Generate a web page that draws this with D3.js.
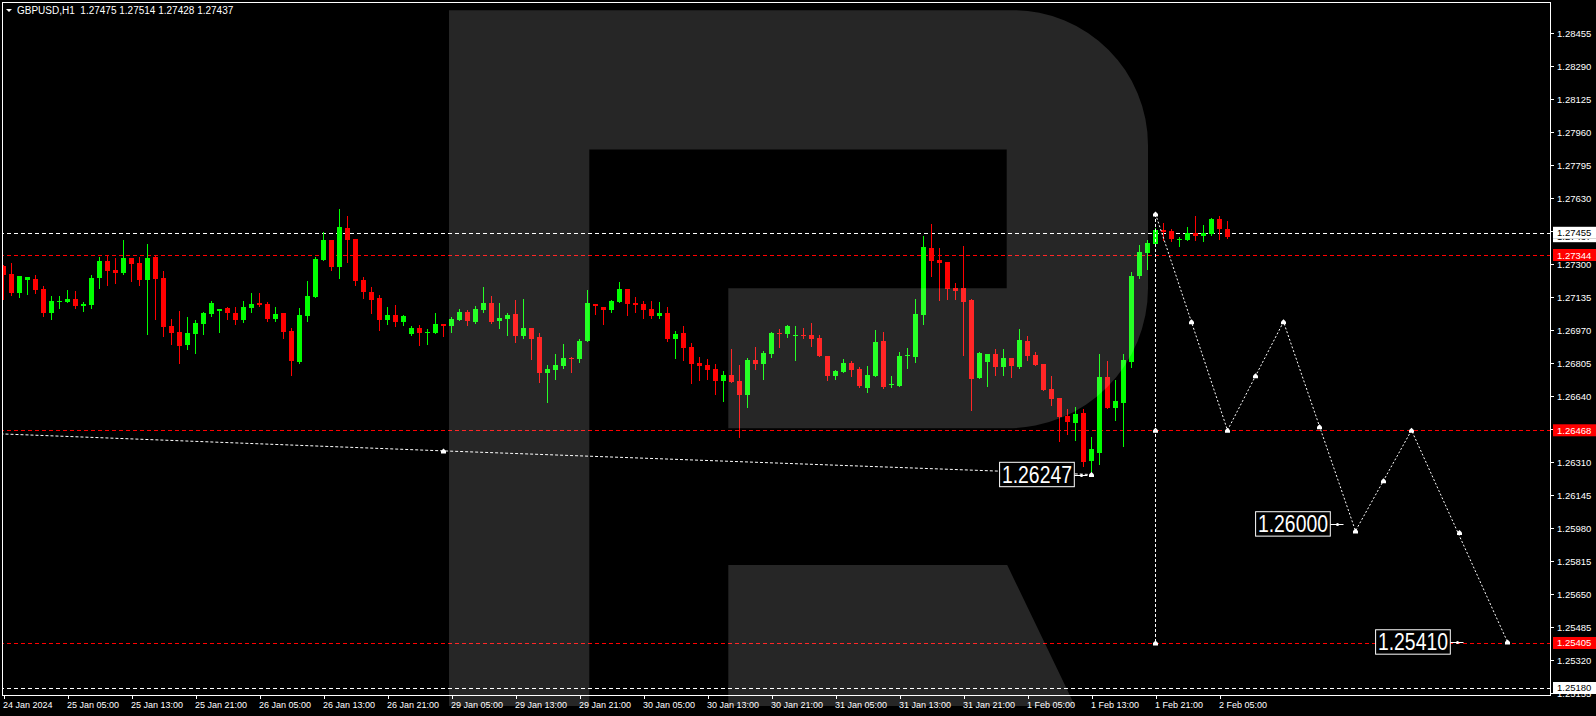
<!DOCTYPE html>
<html><head><meta charset="utf-8">
<script src="https://cdn.jsdelivr.net/npm/d3@7"></script>
<style>html,body{margin:0;padding:0;background:#000;overflow:hidden}svg{display:block}</style>
</head><body><svg id="c" width="1596" height="716"></svg>
<script>
// ---- data (GBPUSD H1) ----
const opens=[1.27290,1.27249,1.27156,1.27219,1.27224,1.27174,1.27054,1.27110,1.27109,1.27124,
1.27089,1.27094,1.27229,1.27314,1.27269,1.27254,1.27329,1.27304,1.27219,1.27334,
1.27229,1.26989,1.26959,1.26894,1.26949,1.26999,1.27049,1.27066,1.27079,1.27054,
1.27019,1.27079,1.27104,1.27099,1.27024,1.27054,1.26964,1.26809,1.27039,1.27134,
1.27319,1.27419,1.27284,1.27479,1.27424,1.27219,1.27159,1.27129,1.27019,1.27044,
1.27009,1.26949,1.26979,1.26956,1.26954,1.26999,1.26989,1.27019,1.27059,1.27009,
1.27069,1.27104,1.27014,1.27024,1.27049,1.26939,1.26979,1.26934,1.26754,1.26769,
1.26789,1.26829,1.26824,1.26914,1.27099,1.27084,1.27069,1.27109,1.27174,1.27104,
1.27099,1.27074,1.27039,1.27054,1.26924,1.26954,1.26884,1.26804,1.26794,1.26774,
1.26714,1.26744,1.26714,1.26644,1.26819,1.26799,1.26849,1.26954,1.26949,1.26942,
1.26944,1.26944,1.26929,1.26839,1.26739,1.26759,1.26804,1.26774,1.26679,1.26739,
1.26914,1.26694,1.26689,1.26839,1.26834,1.27044,1.27379,1.27319,1.27309,1.27179,
1.27179,1.27119,1.26729,1.26809,1.26849,1.26784,1.26829,1.26784,1.26914,1.26844,
1.26799,1.26674,1.26629,1.26539,1.26504,1.26554,1.26314,1.26354,1.26734,1.26579,
1.26604,1.26809,1.27239,1.27354,1.27399,1.27469,1.27464,1.27417,1.27419,1.27454,
1.27439,1.27449,1.27524,1.27475];
const highs=[1.27295,1.27304,1.27239,1.27234,1.27244,1.27189,1.27139,1.27139,1.27169,1.27164,
1.27109,1.27244,1.27334,1.27344,1.27329,1.27419,1.27329,1.27334,1.27399,1.27339,
1.27264,1.27024,1.27064,1.27034,1.27019,1.27059,1.27114,1.27074,1.27084,1.27084,
1.27114,1.27154,1.27154,1.27109,1.27084,1.27054,1.26979,1.27079,1.27214,1.27334,
1.27459,1.27419,1.27574,1.27539,1.27424,1.27234,1.27184,1.27144,1.27084,1.27094,
1.27044,1.26989,1.26994,1.26974,1.27054,1.26999,1.27034,1.27074,1.27069,1.27089,
1.27184,1.27139,1.27104,1.27054,1.27119,1.27124,1.26979,1.26954,1.26794,1.26849,
1.26899,1.26834,1.26924,1.27169,1.27099,1.27084,1.27119,1.27209,1.27174,1.27134,
1.27114,1.27114,1.27109,1.27084,1.26964,1.26989,1.26904,1.26834,1.26824,1.26799,
1.26764,1.26874,1.26794,1.26829,1.26884,1.26864,1.26959,1.26974,1.26994,1.26989,
1.26979,1.27004,1.26944,1.26839,1.26769,1.26824,1.26814,1.26784,1.26789,1.26969,
1.26959,1.26739,1.26859,1.26879,1.27124,1.27439,1.27499,1.27379,1.27309,1.27204,
1.27389,1.27124,1.26859,1.26849,1.26874,1.26874,1.26829,1.26974,1.26939,1.26859,
1.26799,1.26739,1.26629,1.26574,1.26584,1.26574,1.26434,1.26849,1.26814,1.26719,
1.26849,1.27259,1.27394,1.27419,1.27479,1.27504,1.27474,1.27436,1.27484,1.27539,
1.27494,1.27529,1.27539,1.27514];
const lows=[1.27124,1.27146,1.27136,1.27151,1.27156,1.27041,1.27024,1.27080,1.27109,1.27079,
1.27064,1.27079,1.27179,1.27194,1.27204,1.27249,1.27214,1.27194,1.26949,1.27024,
1.26939,1.26899,1.26804,1.26874,1.26854,1.26949,1.27039,1.26959,1.27024,1.26999,
1.27009,1.27059,1.27089,1.27014,1.27014,1.26929,1.26744,1.26804,1.27014,1.27134,
1.27319,1.27269,1.27229,1.27309,1.27194,1.27129,1.27054,1.26969,1.26999,1.26989,
1.26994,1.26944,1.26894,1.26899,1.26954,1.26939,1.26959,1.27019,1.26994,1.27004,
1.27059,1.27004,1.26979,1.26944,1.26909,1.26929,1.26824,1.26709,1.26609,1.26724,
1.26779,1.26759,1.26809,1.26914,1.27049,1.26999,1.27059,1.27109,1.27044,1.27059,
1.27029,1.27029,1.27029,1.26914,1.26829,1.26819,1.26704,1.26719,1.26724,1.26649,
1.26614,1.26709,1.26434,1.26584,1.26774,1.26724,1.26834,1.26884,1.26934,1.26819,
1.26929,1.26889,1.26839,1.26719,1.26724,1.26759,1.26739,1.26684,1.26659,1.26739,
1.26679,1.26684,1.26689,1.26779,1.26809,1.26999,1.27239,1.27119,1.27124,1.27124,
1.26844,1.26569,1.26729,1.26689,1.26744,1.26744,1.26734,1.26779,1.26819,1.26794,
1.26669,1.26594,1.26414,1.26449,1.26419,1.26289,1.26244,1.26299,1.26579,1.26519,
1.26389,1.26784,1.27229,1.27274,1.27399,1.27419,1.27414,1.27389,1.27419,1.27419,
1.27414,1.27444,1.27424,1.27428];
const closes=[1.27244,1.27156,1.27239,1.27234,1.27171,1.27054,1.27114,1.27115,1.27124,1.27089,
1.27099,1.27229,1.27314,1.27264,1.27254,1.27329,1.27299,1.27219,1.27329,1.27224,
1.26984,1.26954,1.26889,1.26954,1.27004,1.27054,1.27104,1.27074,1.27054,1.27019,
1.27084,1.27099,1.27094,1.27024,1.27049,1.26959,1.26814,1.27044,1.27139,1.27324,
1.27419,1.27284,1.27484,1.27419,1.27214,1.27159,1.27119,1.27019,1.27044,1.27009,
1.27039,1.26979,1.26954,1.26959,1.26999,1.26989,1.27024,1.27059,1.27014,1.27074,
1.27104,1.27009,1.27029,1.27044,1.26939,1.26979,1.26924,1.26754,1.26774,1.26794,
1.26829,1.26824,1.26914,1.27104,1.27089,1.27069,1.27114,1.27174,1.27099,1.27094,
1.27069,1.27039,1.27054,1.26924,1.26949,1.26879,1.26799,1.26789,1.26769,1.26714,
1.26744,1.26709,1.26644,1.26819,1.26799,1.26854,1.26954,1.26951,1.26989,1.26944,
1.26939,1.26924,1.26839,1.26739,1.26764,1.26804,1.26769,1.26689,1.26744,1.26909,
1.26684,1.26699,1.26839,1.26842,1.27049,1.27384,1.27314,1.27304,1.27174,1.27164,
1.27109,1.26724,1.26854,1.26849,1.26784,1.26829,1.26789,1.26919,1.26839,1.26794,
1.26669,1.26624,1.26534,1.26509,1.26549,1.26309,1.26374,1.26734,1.26579,1.26614,
1.26819,1.27239,1.27359,1.27404,1.27469,1.27459,1.27424,1.27424,1.27454,1.27441,
1.27454,1.27524,1.27474,1.27437];

const xTickBars=[0,8,16,24,32,40,48,56,64,72,80,88,96,104,112,120,128,136,144,152];
const xTickLabels=["24 Jan 2024","25 Jan 05:00","25 Jan 13:00","25 Jan 21:00","26 Jan 05:00",
"26 Jan 13:00","26 Jan 21:00","29 Jan 05:00","29 Jan 13:00","29 Jan 21:00","30 Jan 05:00",
"30 Jan 13:00","30 Jan 21:00","31 Jan 05:00","31 Jan 13:00","31 Jan 21:00","1 Feb 05:00",
"1 Feb 13:00","1 Feb 21:00","2 Feb 05:00"];
const yTickLabels=["1.28455","1.28290","1.28125","1.27960","1.27795","1.27630","1.27465",
"1.27300","1.27135","1.26970","1.26805","1.26640","1.26475","1.26310","1.26145","1.25980",
"1.25815","1.25650","1.25485","1.25320","1.25155"];
const headerText="GBPUSD,H1  1.27475 1.27514 1.27428 1.27437";
const redLevels=[1.27344,1.26468,1.25405];
const whiteLevels=[1.27455,1.25180];
const bidPrice=1.27437;
const leftPathBars=[-1,55,136];
const leftPathPrices=[1.26451,1.26365,1.26247];
const fcBars=[144,153,160,169,176,188];
const fcPrices=[1.27549,1.26468,1.27010,1.25965,1.26468,1.25410];
const vLineBar=144;
const vLinePrices=[1.27549,1.25405];
const markerBars=[55,136,144,148.5,153,156.5,160,164.5,169,172.5,176,182,188,144,144];
const markerPrices=[1.26365,1.26247,1.27549,1.27010,1.26468,1.26741,1.27010,1.26486,1.25965,1.26216,1.26468,1.25957,1.25410,1.26468,1.25405];
const labelBars=[136,168,183];
const labelPrices=[1.26247,1.26000,1.25410];
const labelTexts=["1.26247","1.26000","1.25410"];

// ---- scales ----
const svg=d3.select("#c");
const W=1596,H=716, plotR=1550, plotB=695;
const x=d3.scaleLinear().domain([0,1]).range([3.5,11.5]);
const y=d3.scaleLinear().domain([1.28455,1.25155]).range([32.7,693]);
const FONT="'Liberation Sans', Arial, sans-serif";

svg.append("rect").attr("width",W).attr("height",H).attr("fill","#000");
const defs=svg.append("defs");
defs.append("clipPath").attr("id","plot").append("rect")
  .attr("x",3).attr("y",3).attr("width",plotR-3).attr("height",plotB-3);
const plot=svg.append("g").attr("clip-path","url(#plot)");

// horizontal level lines
plot.selectAll("line.red").data(redLevels).join("line").attr("class","red")
  .attr("x1",0).attr("x2",plotR).attr("y1",d=>Math.round(y(d))+0.5).attr("y2",d=>Math.round(y(d))+0.5)
  .attr("stroke","#ff0000").attr("stroke-dasharray","4,3");
plot.selectAll("line.wht").data(whiteLevels).join("line").attr("class","wht")
  .attr("x1",0).attr("x2",plotR).attr("y1",d=>Math.round(y(d))+0.5).attr("y2",d=>Math.round(y(d))+0.5)
  .attr("stroke","#fff").attr("stroke-dasharray","4,3");

// candles
const idx=d3.range(opens.length);
const col=i=>closes[i]>=opens[i]?"#00ff00":"#ff0000";
plot.selectAll("line.wick").data(idx).join("line").attr("class","wick")
  .attr("x1",i=>x(i)).attr("x2",i=>x(i))
  .attr("y1",i=>Math.round(y(highs[i]))).attr("y2",i=>Math.round(y(lows[i]))+1)
  .attr("stroke",col).attr("stroke-width",1);
plot.selectAll("rect.body").data(idx).join("rect").attr("class","body")
  .attr("x",i=>x(i)-2.5).attr("width",5)
  .attr("y",i=>Math.round(Math.min(y(opens[i]),y(closes[i]))))
  .attr("height",i=>Math.max(1,Math.round(Math.abs(y(opens[i])-y(closes[i])))))
  .attr("fill",col);

// left dotted path
const line=d3.line().x(d=>x(d[0])).y(d=>y(d[1]));
plot.append("path").attr("d",line(leftPathBars.map((b,i)=>[b,leftPathPrices[i]])))
  .attr("fill","none").attr("stroke","#fff").attr("stroke-dasharray","3,2");
// forecast path
plot.append("path").attr("d",line(fcBars.map((b,i)=>[b,fcPrices[i]])))
  .attr("fill","none").attr("stroke","#fff").attr("stroke-dasharray","2,2");
plot.append("line").attr("x1",x(vLineBar)).attr("x2",x(vLineBar))
  .attr("y1",y(vLinePrices[0])).attr("y2",y(vLinePrices[1]))
  .attr("stroke","#fff").attr("stroke-dasharray","3,2");
// markers
plot.selectAll("path.mk").data(markerBars.map((b,i)=>[b,markerPrices[i]])).join("path").attr("class","mk")
  .attr("transform",d=>`translate(${x(d[0])},${y(d[1])})`)
  .attr("d","M-2.5,2.5 L-2.5,0 L0,-2.5 L2.5,0 L2.5,2.5 Z").attr("fill","#fff");

// price labels with arrows
labelBars.forEach((b,i)=>{
  const ax=x(b), py=y(labelPrices[i]);
  const bw=74.7,bh=24.4, bx=ax-17.7-bw;
  plot.append("line").attr("x1",bx+bw).attr("x2",ax-4).attr("y1",Math.round(py)+0.5).attr("y2",Math.round(py)+0.5)
    .attr("stroke","#fff");
  plot.append("circle").attr("cx",ax-10).attr("cy",Math.round(py)+0.5).attr("r",1.5).attr("fill","#fff");
  plot.append("rect").attr("x",bx+0.5).attr("y",py-bh/2).attr("width",bw).attr("height",bh)
    .attr("fill","#000").attr("stroke","#fff").attr("stroke-width",1);
  plot.append("text").attr("x",bx+bw/2+0.5).attr("y",py+8).attr("text-anchor","middle")
    .attr("font-family",FONT).attr("font-size",23).attr("fill","#fff")
    .attr("textLength",70).attr("lengthAdjust","spacingAndGlyphs").text(labelTexts[i]);
});

// frame
svg.append("rect").attr("x",2.5).attr("y",2.5).attr("width",plotR-2).attr("height",plotB-2)
  .attr("fill","none").attr("stroke","#fff");

// y axis
yTickLabels.forEach(t=>{
  const yy=Math.round(y(+t))+0.5;
  svg.append("line").attr("x1",plotR).attr("x2",plotR+4).attr("y1",yy).attr("y2",yy).attr("stroke","#fff");
  svg.append("text").attr("x",1557).attr("y",yy+3.5).attr("font-family",FONT).attr("font-size",9.5)
    .attr("fill","#fff").text(t);
});
// axis price boxes; a box that sits on a neighbour only shows the uncovered strip of the lower label
let boxId=0;
function axisBox(price,fill,txtFill,txt,clipTop){
  const yy=y(price);
  const g=svg.append("g");
  if(clipTop!==undefined){
    const id="bx"+(boxId++);
    defs.append("clipPath").attr("id",id).append("rect").attr("x",1550).attr("y",clipTop).attr("width",46).attr("height",yy+6-clipTop);
    g.attr("clip-path",`url(#${id})`);
  }
  g.append("rect").attr("x",1553).attr("y",yy-6).attr("width",43).attr("height",12).attr("fill",fill);
  g.append("text").attr("x",1557).attr("y",yy+3.5).attr("font-family",FONT).attr("font-size",9.5)
    .attr("fill",txtFill).text(txt);
}
axisBox(bidPrice,"#fff","#000",bidPrice.toFixed(5),y(whiteLevels[0])+6);
whiteLevels.forEach(p=>axisBox(p,"#fff","#000",p.toFixed(5)));
redLevels.forEach(p=>axisBox(p,"#ff0000","#fff",p.toFixed(5)));

// x axis
xTickBars.forEach((b,i)=>{
  const xx=Math.round(x(b))+0.5;
  svg.append("line").attr("x1",xx).attr("x2",xx).attr("y1",plotB).attr("y2",plotB+4).attr("stroke","#fff");
  svg.append("text").attr("x",xx-1.5).attr("y",708).attr("font-family",FONT).attr("font-size",9)
    .attr("fill","#fff").text(xTickLabels[i]);
});

// header
svg.append("path").attr("d","M6,9 L12,9 L9,12 Z").attr("fill","#fff");
svg.append("text").attr("x",17).attr("y",14).attr("font-family",FONT).attr("font-size",10)
  .attr("fill","#fff").style("white-space","pre").text(headerText);

// watermark (semi-transparent R)
svg.append("path").attr("d",
  "M449,10.2 H1013 A135,135 0 0 1 1148,145 V288 A140,140 0 0 1 1008,428.3 H728.3 V288.3 H1006.7 V149.6 H589.3 V706 H449 Z"+
  " M728.3,565 H1007.2 L1075,706 H728.3 Z")
  .attr("fill","#fff").attr("fill-opacity",0.15).style("pointer-events","none");
</script></body></html>
